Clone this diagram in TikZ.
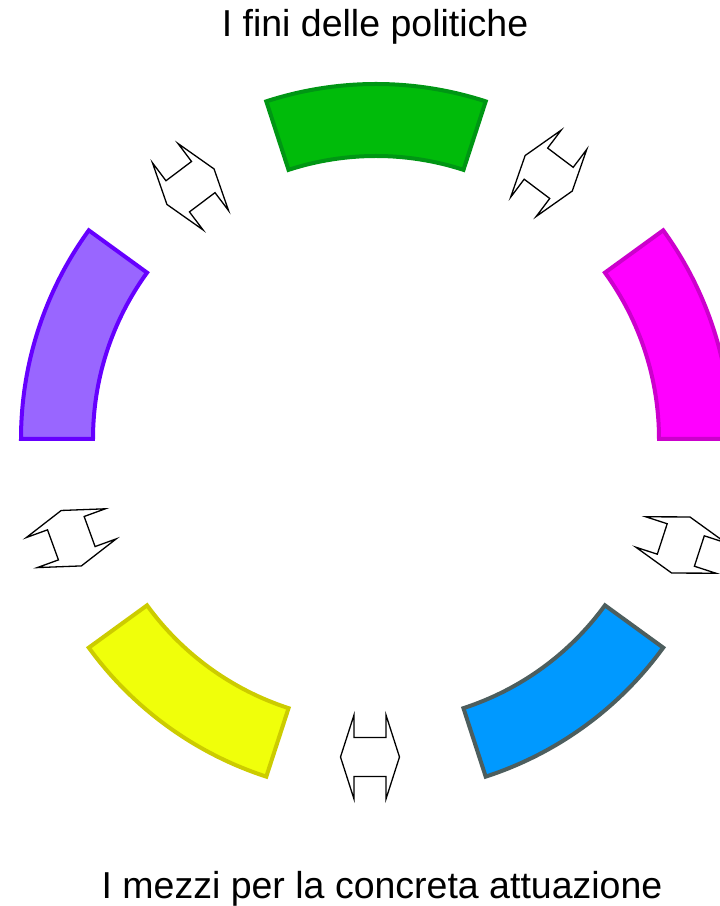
\documentclass[tikz,border=0pt]{standalone}
\usepackage{fontspec}
\setmainfont{Liberation Sans}
\usetikzlibrary{calc}
\definecolor{gfill}{RGB}{0,187,10}
\definecolor{gline}{RGB}{0,150,20}
\definecolor{mfill}{RGB}{255,0,255}
\definecolor{mline}{RGB}{204,0,204}
\definecolor{pfill}{RGB}{153,102,255}
\definecolor{pline}{RGB}{102,0,255}
\definecolor{yfill}{RGB}{240,255,10}
\definecolor{yline}{RGB}{204,204,0}
\definecolor{bfill}{RGB}{0,153,255}
\definecolor{bline}{RGB}{77,94,94}
\tikzset{
  segment/.style={line width=4pt, line join=miter},
  dblarrow/.style={draw=black, fill=white, line width=1.3pt, line join=miter},
  caption/.style={font=\fontsize{37.5}{44}\selectfont, anchor=base, inner sep=0pt}
}
\begin{document}
\begin{tikzpicture}[x=1pt,y=1pt]
\useasboundingbox (0,0) rectangle (720,906);
\clip (0,0) rectangle (720,906);
\coordinate (c) at (376,467);
% ring segments
\foreach \a/\f/\l in {72/gfill/gline, 0/mfill/mline, 144/pfill/pline, 216/yfill/yline, 288/bfill/bline}{
  \draw[segment, fill=\f, draw=\l]
    ($(c)+(\a:355)$) arc[start angle=\a, end angle=\a+36, radius=355]
    -- ($(c)+(\a+36:283)$) arc[start angle=\a+36, end angle=\a, radius=283] -- cycle;
}
% double arrows
\foreach \x/\y/\r in {370/149/0, 190.5/719.3/37, 548.7/732.7/-37, 71.3/367.8/110, 680.8/361/72}{
  \draw[dblarrow, shift={(\x,\y)}, rotate=\r]
    (-29.5,0) -- (-16,42) -- (-16,19.5) -- (16,19.5) -- (16,42) -- (29.5,0)
    -- (16,-42) -- (16,-19.5) -- (-16,-19.5) -- (-16,-42) -- cycle;
}
\node[caption] (top) at (375,869) {I fini delle politiche};
\node[caption] (bottom) at (382,7) {I mezzi per la concreta attuazione};
\end{tikzpicture}
\end{document}
